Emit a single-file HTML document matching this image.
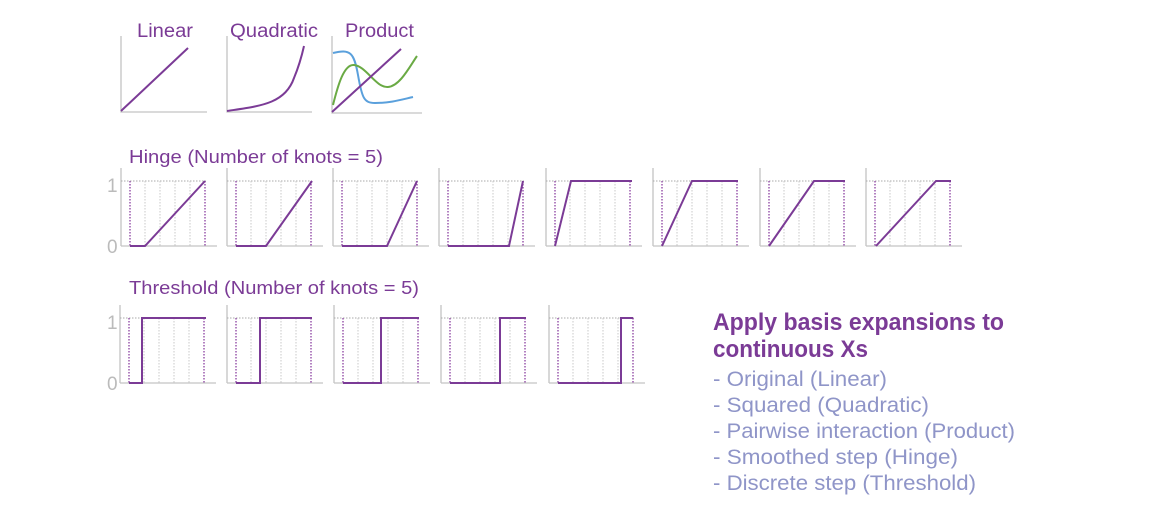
<!DOCTYPE html>
<html><head><meta charset="utf-8"><style>
html,body{margin:0;padding:0;background:#fff;}
svg{display:block;font-family:"Liberation Sans",sans-serif;}
</style></head><body>
<svg width="1169" height="518" viewBox="0 0 1169 518" xmlns="http://www.w3.org/2000/svg">
<defs>
<g id="pan">
  <line x1="0" y1="168" x2="0" y2="246" stroke="#c4c4c4" stroke-width="1.3"/>
  <line x1="0" y1="246" x2="96" y2="246" stroke="#c4c4c4" stroke-width="1.3"/>
  <line x1="0" y1="181" x2="85" y2="181" stroke="#aaa" stroke-width="1" stroke-dasharray="1.5,1.5"/>
  <g stroke="#c8c8c8" stroke-width="1" stroke-dasharray="1.5,1.5">
    <line x1="24" y1="181" x2="24" y2="246"/><line x1="39" y1="181" x2="39" y2="246"/>
    <line x1="54" y1="181" x2="54" y2="246"/><line x1="69" y1="181" x2="69" y2="246"/>
  </g>
  <g stroke="#8a3fa0" stroke-width="1.3" stroke-dasharray="1.5,1.5">
    <line x1="9" y1="181" x2="9" y2="246"/><line x1="84" y1="181" x2="84" y2="246"/>
  </g>
</g>
</defs>
<g fill="#7b3b96" font-size="19" lengthAdjust="spacingAndGlyphs">
<text x="137" y="37" textLength="56" lengthAdjust="spacingAndGlyphs">Linear</text>
<text x="230" y="37" textLength="88" lengthAdjust="spacingAndGlyphs">Quadratic</text>
<text x="345" y="37" textLength="69" lengthAdjust="spacingAndGlyphs">Product</text>
<text x="129" y="163" font-size="18" textLength="254" lengthAdjust="spacingAndGlyphs">Hinge (Number of knots = 5)</text>
<text x="129" y="294" font-size="18" textLength="290" lengthAdjust="spacingAndGlyphs">Threshold (Number of knots = 5)</text>
</g>
<g stroke="#c4c4c4" stroke-width="1.3" fill="none">
<polyline points="121,36 121,112 207,112"/>
<polyline points="227,36 227,112 312,112"/>
<polyline points="332,36 332,113 422,113"/>
</g>
<g fill="none" stroke-width="2">
<line x1="121" y1="111" x2="188" y2="48" stroke="#7b3b96"/>
<path d="M227,111 C260,106 285,104 294,78 C299,66 302,55 304,46" stroke="#7b3b96"/>
<path d="M333,53 C350,49 354,52 358,75 C362,98 364,103 375,103 C390,103 400,100 413,97" stroke="#5aa0dc"/>
<path d="M333,105 C338,85 344,64 354,65 C366,66 376,88 388,87 C400,86 410,66 417,56" stroke="#6aaa44"/>
<line x1="332" y1="112" x2="401" y2="49" stroke="#7b3b96"/>
</g>
<g fill="#bbb" font-size="19">
<text x="107" y="192">1</text><text x="107" y="253">0</text>
<text x="107" y="329">1</text><text x="107" y="390">0</text>
</g>
<use href="#pan" x="121"/><use href="#pan" x="227"/><use href="#pan" x="333"/><use href="#pan" x="439"/>
<use href="#pan" x="546"/><use href="#pan" x="653"/><use href="#pan" x="760"/><use href="#pan" x="866"/>
<g fill="none" stroke="#7b3b96" stroke-width="2">
<polyline points="130,246 145,246 205,181"/>
<polyline points="236,246 266,246 312,181"/>
<polyline points="342,246 387,246 417,181"/>
<polyline points="448,246 509,246 523,181"/>
<polyline points="555,246 571,181 632,181"/>
<polyline points="662,246 692,181 738,181"/>
<polyline points="769,246 814,181 845,181"/>
<polyline points="876,246 936,181 951,181"/>
</g>
<g transform="translate(0,137)">
<use href="#pan" x="120"/><use href="#pan" x="227"/><use href="#pan" x="334"/><use href="#pan" x="441"/><use href="#pan" x="549"/>
</g>
<g fill="none" stroke="#7b3b96" stroke-width="2">
<polyline points="129,383 142,383 142,318 206,318"/>
<polyline points="236,383 260,383 260,318 312,318"/>
<polyline points="343,383 381,383 381,318 419,318"/>
<polyline points="450,383 500,383 500,318 526,318"/>
<polyline points="558,383 621,383 621,318 633,318"/>
</g>
<g font-size="24" font-weight="bold" fill="#7b3b96">
<text x="713" y="330" textLength="291" lengthAdjust="spacingAndGlyphs">Apply basis expansions to</text>
<text x="713" y="357" textLength="155" lengthAdjust="spacingAndGlyphs">continuous Xs</text>
</g>
<g font-size="21" fill="#8f95c8">
<text x="713" y="386" textLength="174" lengthAdjust="spacingAndGlyphs">- Original (Linear)</text>
<text x="713" y="412" textLength="216" lengthAdjust="spacingAndGlyphs">- Squared (Quadratic)</text>
<text x="713" y="438" textLength="302" lengthAdjust="spacingAndGlyphs">- Pairwise interaction (Product)</text>
<text x="713" y="464" textLength="245" lengthAdjust="spacingAndGlyphs">- Smoothed step (Hinge)</text>
<text x="713" y="490" textLength="263" lengthAdjust="spacingAndGlyphs">- Discrete step (Threshold)</text>
</g>
</svg>
</body></html>
